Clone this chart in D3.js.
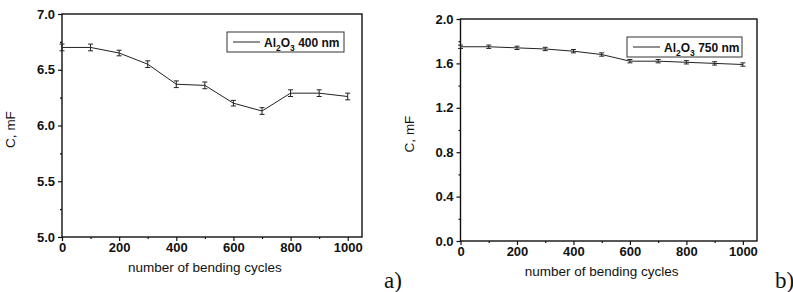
<!DOCTYPE html>
<html>
<head>
<meta charset="utf-8">
<script src="https://cdn.jsdelivr.net/npm/d3@7"></script>
<style>
  body { margin: 0; background: #fff; }
  svg { display: block; }
  text { font-family: "Liberation Sans", Arial, sans-serif; fill: #111; }
</style>
</head>
<body>
<svg id="chart" width="793" height="292"></svg>
<script>
// data
const cycles = [0, 100, 200, 300, 400, 500, 600, 700, 800, 900, 1000]
const cap400 = [6.70, 6.70, 6.65, 6.55, 6.37, 6.36, 6.20, 6.13, 6.29, 6.29, 6.26]
const err400 = [0.03, 0.03, 0.025, 0.03, 0.03, 0.03, 0.025, 0.03, 0.03, 0.03, 0.03]
const cap750 = [1.75, 1.75, 1.74, 1.73, 1.71, 1.68, 1.62, 1.62, 1.61, 1.60, 1.59]
const err750 = [0.015, 0.015, 0.015, 0.015, 0.015, 0.015, 0.015, 0.015, 0.015, 0.015, 0.015]
const xTicks = [0, 200, 400, 600, 800, 1000]
const xMinor = [100, 300, 500, 700, 900]
const yTicks400 = [5.0, 5.5, 6.0, 6.5, 7.0]
const yMinor400 = [5.25, 5.75, 6.25, 6.75]
const yTicks750 = [0.0, 0.4, 0.8, 1.2, 1.6, 2.0]
const yMinor750 = [0.2, 0.6, 1.0, 1.4, 1.8]

const svg = d3.select("#chart")

function drawPanel(p) {
  const x = d3.scaleLinear().domain([0, 1050]).range([p.left, p.right])
  const y = d3.scaleLinear().domain(p.yDomain).range([p.bottom, p.top])
  const g = svg.append("g")

  // frame
  g.append("rect")
    .attr("x", p.left).attr("y", p.top)
    .attr("width", p.right - p.left).attr("height", p.bottom - p.top)
    .attr("fill", "none").attr("stroke", "#111").attr("stroke-width", 1.4)

  // x axis
  const xAxis = g.append("g").attr("transform", `translate(0,${p.bottom})`)
    .call(d3.axisBottom(x).tickValues(xTicks).tickSize(4).tickPadding(2).tickFormat(d3.format("d")))
  xAxis.append("g").call(d3.axisBottom(x).tickValues(xMinor).tickSize(2).tickFormat(""))
  xAxis.selectAll(".domain").remove()

  // y axis
  const yAxis = g.append("g").attr("transform", `translate(${p.left},0)`)
    .call(d3.axisLeft(y).tickValues(p.yTicks).tickSize(4).tickPadding(3).tickFormat(d3.format(".1f")))
  yAxis.append("g").call(d3.axisLeft(y).tickValues(p.yMinor).tickSize(2).tickFormat(""))
  yAxis.selectAll(".domain").remove()

  g.selectAll(".tick line").attr("stroke", "#111").attr("stroke-width", 1.2)
  g.selectAll(".tick text")
    .style("font-family", "'Liberation Sans', Arial, sans-serif")
    .style("font-size", "13px").style("font-weight", "bold").attr("fill", "#1a1a1a")

  // axis titles
  g.append("text")
    .attr("transform", `translate(${p.left - 47},${(p.top + p.bottom) / 2 + 4}) rotate(-90)`)
    .attr("text-anchor", "middle").style("font-size", "13.5px")
    .text("C, mF")
  g.append("text")
    .attr("x", (x(0) + x(1000)) / 2).attr("y", p.bottom + 35)
    .attr("text-anchor", "middle").style("font-size", "13.5px")
    .text("number of bending cycles")

  // data line
  const line = d3.line().x((d, i) => x(cycles[i])).y(d => y(d))
  g.append("path").datum(p.values)
    .attr("d", line).attr("fill", "none")
    .attr("stroke", "#222").attr("stroke-width", 1)

  // error bars
  const eb = g.append("g").attr("stroke", "#222").attr("stroke-width", 1)
  p.values.forEach((v, i) => {
    const cx = x(cycles[i]), y1 = y(v + p.errors[i]), y2 = y(v - p.errors[i])
    eb.append("line").attr("x1", cx).attr("x2", cx).attr("y1", y1).attr("y2", y2)
    eb.append("line").attr("x1", cx - 2.5).attr("x2", cx + 2.5).attr("y1", y1).attr("y2", y1)
    eb.append("line").attr("x1", cx - 2.5).attr("x2", cx + 2.5).attr("y1", y2).attr("y2", y2)
  })

  // legend
  const lg = g.append("g").attr("transform", `translate(${p.legendX},${p.top + 18})`)
  lg.append("rect").attr("x", 0).attr("y", 0).attr("width", p.legendW).attr("height", 20)
    .attr("fill", "#fff").attr("stroke", "#333").attr("stroke-width", 1)
  lg.append("line").attr("x1", 6).attr("x2", 33).attr("y1", 10).attr("y2", 10)
    .attr("stroke", "#222").attr("stroke-width", 1)
  const t = lg.append("text").attr("x", 37).attr("y", 14.5)
    .style("font-size", "12px").style("font-weight", "bold")
  t.append("tspan").text("Al")
  t.append("tspan").attr("dy", 4).style("font-size", "8.5px").text("2")
  t.append("tspan").attr("dy", -4).text("O")
  t.append("tspan").attr("dy", 4).style("font-size", "8.5px").text("3")
  t.append("tspan").attr("dy", -4).text(" " + p.label)

  // panel letter
  svg.append("text")
    .attr("x", p.letterX).attr("y", 288)
    .style("font-family", "'Liberation Serif', 'Times New Roman', serif")
    .style("font-size", "23px")
    .text(p.letter)
}

drawPanel({
  left: 62, right: 362, top: 14, bottom: 237,
  yDomain: [5, 7], yTicks: yTicks400, yMinor: yMinor400,
  values: cap400, errors: err400,
  legendX: 227, legendW: 117, label: "400 nm",
  letter: "a)", letterX: 384
})

drawPanel({
  left: 460.5, right: 757, top: 19, bottom: 241,
  yDomain: [0, 2], yTicks: yTicks750, yMinor: yMinor750,
  values: cap750, errors: err750,
  legendX: 627, legendW: 115, label: "750 nm",
  letter: "b)", letterX: 775
})
</script>
</body>
</html>
